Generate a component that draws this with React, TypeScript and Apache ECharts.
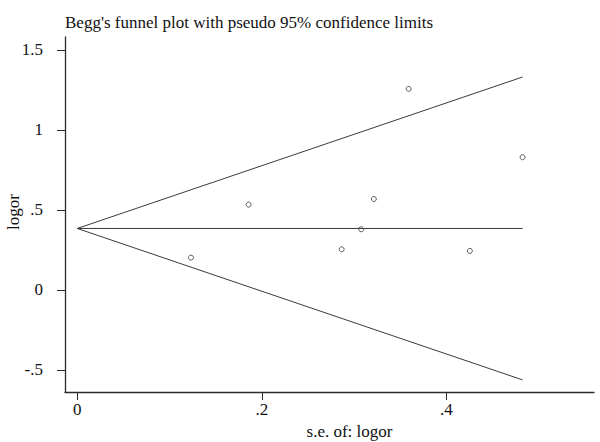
import React, { useEffect, useRef } from "react";
import * as echarts from "echarts";

const seValues = [0.1231, 0.1856, 0.2864, 0.3076, 0.3213, 0.359, 0.4253, 0.4824];
const logorValues = [0.202, 0.533, 0.254, 0.379, 0.568, 1.256, 0.244, 0.829];
const funnelSE = [0, 0.4824];
const pooledLine = [0.384, 0.384];
const upperLimit = [0.384, 1.33];
const lowerLimit = [0.384, -0.562];
const xTicks = [0, 0.2, 0.4];
const yTicks = [-0.5, 0, 0.5, 1, 1.5];

const fmt = (v: number) => (v === 0 ? "0" : String(v).replace(/^(-?)0\./, "$1."));
const FONT = "Liberation Serif";
const AX = "#2b2b2b";
const LN = "#3a3a3a";

export default function App() {
  const ref = useRef<HTMLDivElement>(null);
  useEffect(() => {
    if (!ref.current) return;
    const chart = echarts.init(ref.current, undefined, { renderer: "svg" });
    const pts = seValues.map((s, i) => [s, logorValues[i]]);
    const line = (ys: number[]) => funnelSE.map((s, i) => [s, ys[i]]);
    const lineSeries = (name: string, ys: number[]) => ({
      name,
      type: "line",
      data: line(ys),
      symbol: "none",
      lineStyle: { color: LN, width: 1 },
      silent: true,
    });
    chart.setOption({
      animation: false,
      backgroundColor: "#fff",
      title: {
        text: "Begg's funnel plot with pseudo 95% confidence limits",
        left: 60,
        top: 9,
        textStyle: { fontFamily: FONT, fontSize: 17, fontWeight: "normal", color: "#111" },
      },
      graphic: [
        {
          type: "text",
          x: 13,
          y: 212,
          rotation: Math.PI / 2,
          style: {
            text: "logor",
            fontFamily: FONT,
            fontSize: 17,
            fill: "#111",
            textAlign: "center",
            textVerticalAlign: "middle",
          },
        },
      ],
      grid: { left: 65, right: 6, top: 37, bottom: 50, containLabel: false, outerBoundsMode: "none" },
      xAxis: {
        type: "value",
        min: -0.0133,
        max: 0.5598,
        name: "s.e. of: logor",
        nameLocation: "middle",
        nameGap: 23,
        nameTextStyle: { fontFamily: FONT, fontSize: 17, color: "#111", padding: [0, 0, 0, 40] },
        axisLine: { show: true, onZero: false, lineStyle: { color: AX, width: 1.3 } },
        axisTick: { show: true, length: 8, customValues: xTicks, lineStyle: { color: AX } },
        axisLabel: {
          customValues: xTicks,
          formatter: fmt,
          margin: 9,
          fontFamily: FONT,
          fontSize: 17,
          color: "#111",
        },
        splitLine: { show: false },
      },
      yAxis: {
        type: "value",
        min: -0.6375,
        max: 1.58,
        axisLine: { show: true, onZero: false, lineStyle: { color: AX, width: 1.3 } },
        axisTick: { show: true, length: 8, customValues: yTicks, lineStyle: { color: AX } },
        axisLabel: {
          customValues: yTicks,
          formatter: fmt,
          margin: 22,
          fontFamily: FONT,
          fontSize: 17,
          color: "#111",
        },
        splitLine: { show: false },
      },
      series: [
        lineSeries("upper", upperLimit),
        lineSeries("pooled", pooledLine),
        lineSeries("lower", lowerLimit),
        {
          name: "studies",
          type: "scatter",
          data: pts,
          symbol: "circle",
          symbolSize: 5,
          itemStyle: { color: "#fff", borderColor: "#333", borderWidth: 1 },
        },
      ],
    });
    return () => chart.dispose();
  }, []);
  return (
    <div
      ref={ref}
      style={{ position: "absolute", left: 0, top: 0, width: 600, height: 442 }}
    />
  );
}
